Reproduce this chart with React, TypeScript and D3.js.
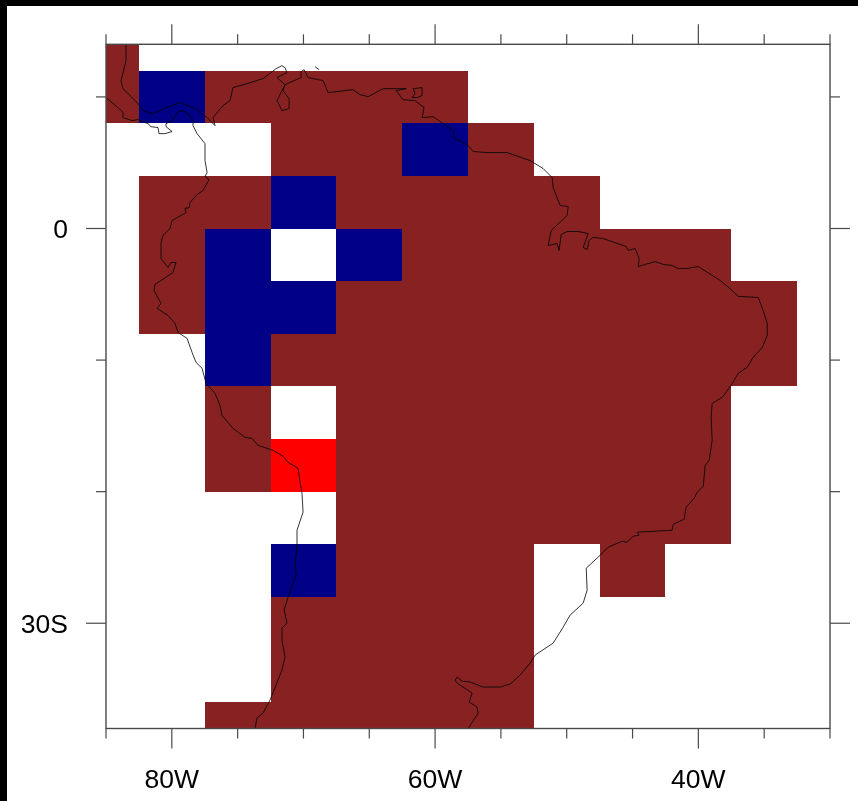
import React from "react";
import * as d3 from "d3";

const WIDTH = 858;
const HEIGHT = 801;

const lonDomain: [number, number] = [-85, -30];
const latDomain: [number, number] = [14, -38];

// cell edges
const lonCentres = [-85, -80, -75, -70, -65, -60, -55, -50, -45, -40, -35];
const latEdges = [14, 12, 8, 4, 0, -4, -8, -12, -16, -20, -24, -28, -32, -36, -38];

// 0 = no data, 1 = brown, 2 = navy, 3 = red (rows north to south, columns west to east)
const row01 = [1, 0, 0, 0, 0, 0, 0, 0, 0, 0, 0];
const row02 = [1, 2, 1, 1, 1, 1, 0, 0, 0, 0, 0];
const row03 = [0, 0, 0, 1, 1, 2, 1, 0, 0, 0, 0];
const row04 = [0, 1, 1, 2, 1, 1, 1, 1, 0, 0, 0];
const row05 = [0, 1, 2, 0, 2, 1, 1, 1, 1, 1, 0];
const row06 = [0, 1, 2, 2, 1, 1, 1, 1, 1, 1, 1];
const row07 = [0, 0, 2, 1, 1, 1, 1, 1, 1, 1, 1];
const row08 = [0, 0, 1, 0, 1, 1, 1, 1, 1, 1, 0];
const row09 = [0, 0, 1, 3, 1, 1, 1, 1, 1, 1, 0];
const row10 = [0, 0, 0, 0, 1, 1, 1, 1, 1, 1, 0];
const row11 = [0, 0, 0, 2, 1, 1, 1, 0, 1, 0, 0];
const row12 = [0, 0, 0, 1, 1, 1, 1, 0, 0, 0, 0];
const row13 = [0, 0, 0, 1, 1, 1, 1, 0, 0, 0, 0];
const row14 = [0, 0, 1, 1, 1, 1, 1, 0, 0, 0, 0];
const rows = [row01, row02, row03, row04, row05, row06, row07, row08, row09, row10, row11, row12, row13, row14];

const categoryCodes = [0, 1, 2, 3];
const categoryColors = ["#ffffff", "#882323", "#000087", "#ff0000"];

const xMinorTicks = [-85, -75, -70, -65, -55, -50, -45, -35, -30];
const xMajorTicks = [-80, -60, -40];
const xMajorLabels = ["80W", "60W", "40W"];
const yMinorTicks = [10, -10, -20];
const yMajorTicks = [0, -30];
const yMajorLabels = ["0", "30S"];

type P = [number, number];

const pacificCoast: P[] = [
  [-85, 9.95], [-84.54, 9.57], [-84.09, 9.19], [-83.71, 8.81], [-83.71, 8.43], [-83.02, 8.2], [-82.57, 8.28], [-81.81, 7.97],
  [-81.58, 7.74], [-81.05, 7.67], [-80.97, 7.21], [-80.52, 7.21], [-79.98, 7.37], [-80.44, 7.74], [-80.44, 7.97], [-79.98, 8.2],
  [-79.53, 8.88], [-79.15, 8.96], [-78.77, 8.73], [-78.39, 8.2], [-78.39, 7.82], [-78.08, 7.21], [-77.48, 6.45], [-77.48, 5.16],
  [-77.32, 4.25], [-77.48, 3.95], [-77.17, 3.72], [-77.63, 2.89], [-78.08, 2.58], [-78.62, 1.97], [-78.69, 1.59], [-79, 1.52],
  [-78.92, 1.21], [-79.98, 0.61], [-80.14, 0], [-80.67, -0.53], [-80.82, -1.06], [-80.82, -2.28], [-80.29, -2.96], [-80.06, -2.58],
  [-79.68, -2.58], [-79.91, -3.34], [-81.28, -4.25], [-81.35, -4.71], [-80.82, -5.69], [-81.12, -6.07], [-80.29, -6.61], [-79.76, -7.21],
  [-79.53, -7.9], [-78.84, -8.35], [-78.46, -9.42], [-78.16, -10.18], [-77.7, -10.63], [-77.4, -11.77], [-76.72, -12.53], [-76.34, -13.44],
  [-76.19, -14.2], [-75.35, -15.19], [-74.44, -15.87], [-73.91, -15.95], [-73.45, -16.48], [-72.31, -16.86], [-71.55, -17.31], [-71.17, -17.77],
  [-70.41, -18.22], [-70.26, -19.29], [-70.11, -20.12], [-70.03, -21.56], [-70.49, -22.93], [-70.49, -24.07], [-70.64, -25.59], [-70.56, -26.35],
  [-71.17, -28.02], [-71.47, -29], [-71.25, -29.99], [-71.63, -30.37], [-71.63, -31.28], [-71.4, -32.57], [-71.63, -33.56], [-72.54, -35.84],
  [-73.07, -36.83], [-73.53, -37.21], [-73.68, -38],
];

const atlanticCoast: P[] = [
  [-57.49, -38], [-56.73, -36.83], [-56.81, -36.37], [-57.41, -35.99], [-57.19, -35.31], [-58.33, -34.55], [-58.48, -34.32], [-58.33, -34.09],
  [-57.95, -34.4], [-57.34, -34.47], [-56.35, -34.85], [-55.06, -34.85], [-54.3, -34.62], [-53.54, -33.94], [-52.78, -33.03], [-52.4, -32.42],
  [-51.03, -31.51], [-50.27, -30.3], [-49.74, -29.38], [-48.75, -28.47], [-48.45, -27.49], [-48.52, -25.82], [-47.46, -24.83], [-46.85, -24.22],
  [-45.79, -23.77], [-45.41, -23.84], [-44.95, -23.39], [-44.5, -23.31], [-44.65, -23.08], [-43.43, -23.01], [-41.99, -22.93], [-41.91, -22.48],
  [-41.08, -22.1], [-40.93, -21.18], [-40.32, -20.5], [-40.09, -20.05], [-39.63, -19.59], [-39.48, -18], [-39.18, -17.62], [-38.95, -16.1],
  [-39.03, -14.35], [-38.95, -13.29], [-38.19, -12.83], [-37.51, -11.92], [-36.97, -11.01], [-36.29, -10.55], [-35.84, -9.79], [-35.15, -9.04],
  [-34.77, -8.12], [-34.77, -7.21], [-35.08, -6.23], [-35.45, -5.24], [-36.97, -5.16], [-37.43, -4.71], [-38.34, -3.95], [-40.01, -2.89],
  [-40.85, -3.04], [-41.53, -3.04], [-41.99, -2.81], [-42.67, -2.73], [-43.28, -2.51], [-44.57, -2.89], [-44.5, -2.28], [-44.8, -1.52],
  [-45.33, -1.67], [-45.48, -1.37], [-47.23, -0.76], [-47.99, -0.68], [-48.3, -0.91], [-48.45, -1.59], [-48.75, -1.44], [-48.37, -0.38],
  [-49.13, -0.23], [-49.97, -0.23], [-50.42, -0.46], [-50.58, -1.67], [-50.73, -1.14], [-51.41, -1.29], [-51.18, -0.15], [-49.97, 0.99],
  [-49.89, 1.67], [-50.5, 1.75], [-51.03, 3.11], [-51.11, 3.87], [-51.79, 4.56], [-52.78, 5.16], [-54.53, 5.77], [-56.05, 5.77],
  [-57.11, 5.85], [-57.49, 6.3], [-58.33, 6.76], [-58.56, 6.83], [-58.63, 7.44], [-60.15, 8.5], [-60.99, 8.43], [-60.84, 9.19],
  [-61.52, 9.72], [-62.43, 9.79], [-62.96, 10.48], [-62.2, 10.63], [-63.95, 10.63], [-65.09, 10.02], [-65.7, 10.17], [-66.23, 10.55],
  [-68.13, 10.33], [-68.51, 11.24], [-69.65, 11.47], [-69.95, 12.07], [-70.18, 11.92], [-70.18, 11.47], [-71.4, 10.93], [-72.01, 9.72],
  [-71.63, 8.96], [-71.09, 9.11], [-71.09, 9.87], [-71.55, 10.48], [-71.4, 10.93], [-72.01, 11.47], [-71.25, 11.85], [-71.4, 12.22],
  [-71.63, 12.38], [-72.08, 12.15], [-73.07, 11.39], [-74.29, 11.01], [-75.35, 10.71], [-75.58, 9.72], [-76.11, 9.34], [-76.87, 8.43],
  [-76.72, 7.82], [-77.32, 8.43], [-78.24, 9.11], [-79.38, 9.57], [-80.36, 9.19], [-81.43, 8.73], [-82.19, 8.96], [-82.64, 9.57],
  [-83.71, 10.63], [-83.86, 11.24], [-83.48, 12.76], [-83.48, 14],
];

const trinidad: P[] = [
  [-61.75, 9.95], [-61.37, 9.95], [-60.99, 10.1], [-60.99, 10.71], [-61.67, 10.63], [-61.52, 10.25], [-61.75, 9.95],
];
const islet: P[] = [[-69.12, 12.3], [-68.81, 12.07]];
const coastlines = [pacificCoast, atlanticCoast, trinidad, islet];

const x = d3.scaleLinear().domain(lonDomain).range([106, 830]);
const y = d3.scaleLinear().domain(latDomain).range([44.3, 728.5]);
const color = d3.scaleOrdinal<number, string>().domain(categoryCodes).range(categoryColors);
const line = d3.line<P>().x((d) => x(d[0])).y((d) => y(d[1]));

const FONT = "'Liberation Sans', Arial, Helvetica, sans-serif";
const AXIS = "#4a4a4a";

export default function App() {
  const [x0, x1] = x.range();
  const [y0, y1] = y.range();
  return (
    <svg
      width={WIDTH}
      height={HEIGHT}
      viewBox={`0 0 ${WIDTH} ${HEIGHT}`}
      style={{ position: "absolute", left: 0, top: 0, display: "block" }}
    >
      <defs>
        <clipPath id="plot">
          <rect x={x0} y={y0} width={x1 - x0} height={y1 - y0} />
        </clipPath>
        <filter id="soft" x="0" y="0" width="100%" height="100%">
          <feGaussianBlur stdDeviation="0.4" />
        </filter>
      </defs>
      <rect x={0} y={0} width={WIDTH} height={HEIGHT} fill="#000000" />
      <rect x={7} y={6} width={WIDTH - 7} height={HEIGHT - 6} fill="#ffffff" />
      <g filter="url(#soft)">
        <g clipPath="url(#plot)" shapeRendering="crispEdges">
          {rows.map((row, r) =>
            row.map((v, c) =>
              v === 0 ? null : (
                <rect
                  key={`${r}-${c}`}
                  x={x(lonCentres[c] - 2.5)}
                  y={y(latEdges[r])}
                  width={x(lonCentres[c] + 2.5) - x(lonCentres[c] - 2.5)}
                  height={y(latEdges[r + 1]) - y(latEdges[r])}
                  fill={color(v)}
                />
              )
            )
          )}
        </g>
        <g clipPath="url(#plot)">
          {coastlines.map((c, i) => (
            <path key={i} d={line(c) ?? ""} fill="none" stroke="#000000" strokeWidth={0.8} strokeLinejoin="round" />
          ))}
        </g>
        <rect x={x0} y={y0} width={x1 - x0} height={y1 - y0} fill="none" stroke={AXIS} strokeWidth={1.4} />
        <g stroke={AXIS} strokeWidth={1.2}>
          {xMinorTicks.map((t) => (
            <g key={t}>
              <line x1={x(t)} x2={x(t)} y1={y0} y2={y0 - 10} />
              <line x1={x(t)} x2={x(t)} y1={y1} y2={y1 + 10} />
            </g>
          ))}
          {xMajorTicks.map((t) => (
            <g key={t}>
              <line x1={x(t)} x2={x(t)} y1={y0} y2={y0 - 20} />
              <line x1={x(t)} x2={x(t)} y1={y1} y2={y1 + 20} />
            </g>
          ))}
          {yMinorTicks.map((t) => (
            <g key={t}>
              <line x1={x0} x2={x0 - 10} y1={y(t)} y2={y(t)} />
              <line x1={x1} x2={x1 + 10} y1={y(t)} y2={y(t)} />
            </g>
          ))}
          {yMajorTicks.map((t) => (
            <g key={t}>
              <line x1={x0} x2={x0 - 20} y1={y(t)} y2={y(t)} />
              <line x1={x1} x2={x1 + 20} y1={y(t)} y2={y(t)} />
            </g>
          ))}
        </g>
        <g fontFamily={FONT} fontSize={26.5} fill="#000000">
          {xMajorTicks.map((t, i) => (
            <text key={t} x={x(t)} y={787.5} textAnchor="middle">
              {xMajorLabels[i]}
            </text>
          ))}
          {yMajorTicks.map((t, i) => (
            <text key={t} x={68} y={y(t) + 9.5} textAnchor="end">
              {yMajorLabels[i]}
            </text>
          ))}
        </g>
      </g>
    </svg>
  );
}
